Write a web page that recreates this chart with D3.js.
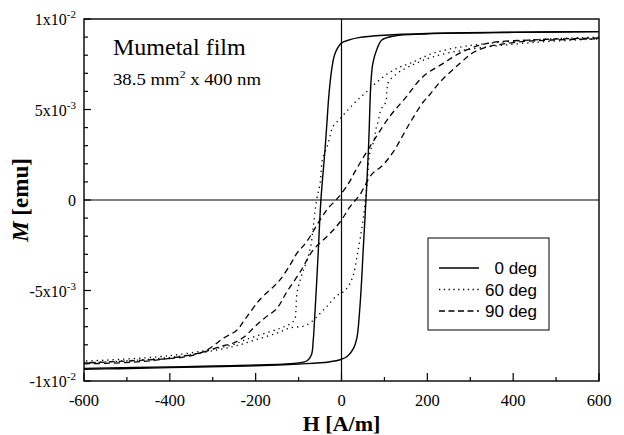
<!DOCTYPE html>
<html><head><meta charset="utf-8">
<script src="https://cdn.jsdelivr.net/npm/d3@7"></script>
<style>body{margin:0;background:#fff}svg{display:block}</style>
</head><body>
<script>
// ---- data (H in A/m, M in 1e-3 emu) ----
const deg0Down = [[600,9.3],[400,9.27],[200,9.2],[100,9.1],[40,8.97],[20,8.86],[0,8.67],[-15,8.1],[-22,7.35],[-29,5.9],[-34,4.25],[-38,2.9],[-48,0],[-54,-2.76],[-58,-4.6],[-62,-6.3],[-66,-7.8],[-70,-8.55],[-80,-8.88],[-100,-9.0],[-200,-9.12],[-400,-9.22],[-600,-9.3]];
const deg0Up = [[-600,-9.35],[-520,-9.32],[-400,-9.26],[-200,-9.16],[-100,-9.06],[-30,-8.95],[0,-8.8],[15,-8.6],[28,-8.2],[36,-7.6],[42,-6.2],[47,-4.4],[50,-3.0],[57,0],[63,2.9],[65,4.25],[68,6.25],[73,7.55],[82,8.3],[94,8.84],[120,9.05],[200,9.18],[400,9.26],[600,9.3]];
const deg60Down = [[600,9.0],[446,8.85],[290,8.5],[212,8.1],[160,7.55],[136,7.35],[109,7.0],[82,6.5],[55,5.9],[36,5.5],[12,4.9],[-3,4.5],[-20,4.05],[-27,3.5],[-34,2.9],[-44,2.3],[-50,0.9],[-58,0],[-66,-1.5],[-72,-2.6],[-80,-3.3],[-89,-3.9],[-96,-4.4],[-104,-5.2],[-106,-6.0],[-109,-6.6],[-120,-6.85],[-145,-7.1],[-222,-7.7],[-254,-8.0],[-400,-8.6],[-600,-8.9]];
const deg60Up = [[-600,-9.0],[-400,-8.7],[-253,-8.1],[-197,-7.7],[-150,-7.35],[-120,-7.07],[-81,-6.9],[-35,-5.9],[-12,-5.3],[3,-5.1],[15,-4.8],[27,-4.2],[37,-3.0],[49,-1.3],[59,0.7],[66,2.6],[76,3.3],[80,3.9],[86,4.4],[92,5.0],[103,5.4],[106,6.1],[109,6.5],[130,7.0],[160,7.4],[212,7.9],[290,8.3],[446,8.7],[600,8.9]];
const deg90Down = [[600,8.95],[450,8.85],[339,8.65],[283,8.2],[237,7.55],[189,6.8],[151,5.7],[112,4.6],[65,2.9],[47,2.2],[31,1.55],[16,0.9],[-9,0.1],[-31,-0.45],[-50,-1.1],[-81,-2.3],[-104,-2.95],[-120,-3.6],[-143,-4.4],[-159,-4.8],[-190,-5.5],[-225,-6.6],[-244,-7.2],[-276,-7.65],[-314,-8.3],[-361,-8.65],[-462,-8.85],[-600,-9.0]];
const deg90Up = [[-600,-9.05],[-462,-8.92],[-330,-8.45],[-283,-8.1],[-252,-7.9],[-229,-7.6],[-202,-7.0],[-178,-6.5],[-151,-6.0],[-128,-5.1],[-97,-4.0],[-66,-2.76],[-42,-2.2],[-19,-1.66],[0,-1.1],[20,-0.37],[43,0.3],[70,1.4],[95,1.9],[119,2.6],[158,4.2],[190,5.4],[205,5.8],[229,6.5],[276,7.55],[315,8.25],[400,8.7],[600,8.9]];

const xTicksMajor = [-600,-400,-200,0,200,400,600];
const xTicksMinor = [-500,-300,-100,100,300,500];
const yTicksMajor = [10,5,0,-5,-10];
const yTickLabels = [["1x10","-2"],["5x10","-3"],["0",""],["-5x10","-3"],["-1x10","-2"]];
const yTicksMinor = [9,8,7,6,4,3,2,1,-1,-2,-3,-4,-6,-7,-8,-9];
const legendLabels = ["0 deg","60 deg","90 deg"];

// ---- layout ----
const W = 624, H = 435;
const L = 84, R = 599, T = 19, B = 381;
const svg = d3.select("body").append("svg").attr("width", W).attr("height", H);
const x = d3.scaleLinear().domain([-600,600]).range([L,R]);
const y = d3.scaleLinear().domain([-10,10]).range([B,T]);
const serif = "'Liberation Serif','Times New Roman',serif";
const sans = "'Liberation Sans',Arial,Helvetica,sans-serif";

// zero lines
svg.append("line").attr("x1",L).attr("x2",R).attr("y1",y(0)).attr("y2",y(0)).attr("stroke","#000").attr("stroke-width",1.2);
svg.append("line").attr("x1",x(0)).attr("x2",x(0)).attr("y1",T).attr("y2",B).attr("stroke","#000").attr("stroke-width",1.2);

// curves
const line = d3.line().x(d=>x(d[0])).y(d=>y(d[1])).curve(d3.curveCatmullRom.alpha(0.5));
const styles = {dot:"1.3,4", dash:"6,4"};
function draw(data, dash){
  svg.append("path").attr("d", line(data)).attr("fill","none").attr("stroke","#000")
    .attr("stroke-width", dash ? 1.3 : 1.4).attr("stroke-dasharray", dash);
}
draw(deg0Down, null); draw(deg0Up, null);
draw(deg60Down, styles.dot); draw(deg60Up, styles.dot);
draw(deg90Down, styles.dash); draw(deg90Up, styles.dash);

// frame
svg.append("rect").attr("x",L).attr("y",T).attr("width",R-L).attr("height",B-T)
  .attr("fill","none").attr("stroke","#000").attr("stroke-width",1.4);

// x axis ticks (inside)
const xa = svg.append("g");
xTicksMajor.forEach(v=>{
  xa.append("line").attr("x1",x(v)).attr("x2",x(v)).attr("y1",B).attr("y2",B-8).attr("stroke","#000").attr("stroke-width",1.2);
  xa.append("text").attr("x",x(v)).attr("y",B+25).attr("text-anchor","middle")
    .attr("font-family",serif).attr("font-size",16.5).text(v);
});
xTicksMinor.forEach(v=>{
  xa.append("line").attr("x1",x(v)).attr("x2",x(v)).attr("y1",B).attr("y2",B-4).attr("stroke","#000").attr("stroke-width",1.2);
});
// y axis ticks
const ya = svg.append("g");
yTicksMajor.forEach((v,i)=>{
  ya.append("line").attr("x1",L).attr("x2",L+7).attr("y1",y(v)).attr("y2",y(v)).attr("stroke","#000").attr("stroke-width",1.2);
  const lab = yTickLabels[i];
  const t = ya.append("text").attr("x",L-8).attr("y",y(v)+6).attr("text-anchor","end")
    .attr("font-family",serif).attr("font-size",16);
  t.append("tspan").text(lab[0]);
  if(lab[1]) t.append("tspan").attr("font-size",11).attr("dy",-7).text(lab[1]);
});
yTicksMinor.forEach(v=>{
  ya.append("line").attr("x1",L).attr("x2",L+4).attr("y1",y(v)).attr("y2",y(v)).attr("stroke","#000").attr("stroke-width",1.2);
});

// axis titles
svg.append("text").attr("x",x(0)).attr("y",431).attr("text-anchor","middle")
  .attr("font-family",serif).attr("font-size",22).attr("font-weight","bold").text("H [A/m]");
const yt = svg.append("text").attr("transform",`translate(28,${y(0)}) rotate(-90)`).attr("text-anchor","middle")
  .attr("font-family",serif).attr("font-size",23).attr("font-weight","bold");
yt.append("tspan").attr("font-style","italic").text("M");
yt.append("tspan").text(" [emu]");

// annotation
svg.append("text").attr("x",113).attr("y",55).attr("font-family",serif).attr("font-size",24).text("Mumetal film");
const sub = svg.append("text").attr("x",113).attr("y",85).attr("font-family",serif).attr("font-size",16)
  .attr("textLength",148).attr("lengthAdjust","spacingAndGlyphs");
sub.append("tspan").text("38.5 mm");
sub.append("tspan").attr("font-size",10).attr("dy",-7).text("2");
sub.append("tspan").attr("dy",7).text(" x 400 nm");

// legend
const lg = svg.append("g");
lg.append("rect").attr("x",428).attr("y",238).attr("width",121).attr("height",92)
  .attr("fill","#fff").attr("stroke","#000").attr("stroke-width",1);
const dashes = [null, "1.3,3.5", "6,3.5"];
legendLabels.forEach((lab,i)=>{
  const cy = 268 + i*21.5;
  lg.append("line").attr("x1",439).attr("x2",479).attr("y1",cy).attr("y2",cy)
    .attr("stroke","#000").attr("stroke-width",1.3).attr("stroke-dasharray",dashes[i]);
  lg.append("text").attr("x",537).attr("y",cy+6).attr("text-anchor","end")
    .attr("font-family",sans).attr("font-size",17).text(lab);
});
</script>
</body></html>
